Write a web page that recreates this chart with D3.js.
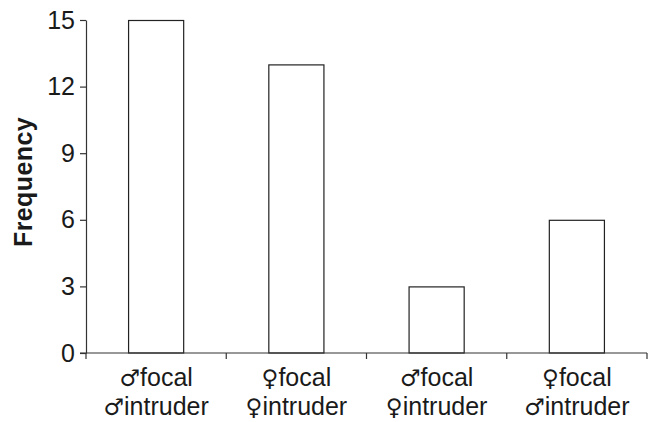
<!DOCTYPE html>
<html>
<head>
<meta charset="utf-8">
<script src="https://cdn.jsdelivr.net/npm/d3@7/dist/d3.min.js"></script>
<style>
  html, body { margin: 0; padding: 0; background: #fff; }
  svg { display: block; }
  text { font-family: "Liberation Sans", Arial, Helvetica, sans-serif; fill: #1a1a1a; }
</style>
</head>
<body>
<svg id="chart" width="650" height="422"></svg>
<script>
// Encounter pairings (focal sex / intruder sex) and how often each was seen
const focalSymbols = ["\u2642", "\u2640", "\u2642", "\u2640"];
const intruderSymbols = ["\u2642", "\u2640", "\u2640", "\u2642"];
const categories = ["mm", "ff", "mf", "fm"];
const frequency = [15, 13, 3, 6];
const yTicks = [0, 3, 6, 9, 12, 15];
const yTitle = "Frequency";

const svg = d3.select("#chart");
const plotLeft = 86, plotRight = 647, plotTop = 20, plotBottom = 353;

const x = d3.scaleBand()
  .domain(categories)
  .range([plotLeft, plotRight])
  .paddingInner(0.6)
  .paddingOuter(0.3);

const y = d3.scaleLinear()
  .domain([0, 15])
  .range([plotBottom, plotTop]);

const axisColor = "#333";

// Bars
svg.append("g")
  .selectAll("rect")
  .data(categories)
  .join("rect")
  .attr("x", d => x(d) + 0.5)
  .attr("y", (d, i) => y(frequency[i]) + 0.5)
  .attr("width", x.bandwidth() - 1)
  .attr("height", (d, i) => y(0) - y(frequency[i]) - 0.5)
  .attr("fill", "#fff")
  .attr("stroke", "#222")
  .attr("stroke-width", 1.2);

// Y axis
const yAxis = svg.append("g")
  .attr("transform", `translate(${plotLeft},0)`)
  .call(d3.axisLeft(y).tickValues(yTicks).tickSize(6).tickPadding(5).tickSizeOuter(0));
yAxis.select(".domain").attr("stroke", axisColor).attr("stroke-width", 1.2);
yAxis.selectAll(".tick line").attr("stroke", axisColor).attr("stroke-width", 1.2);
yAxis.selectAll(".tick text")
  .attr("font-size", 25)
  .attr("font-family", "Liberation Sans, Arial, sans-serif")
  .attr("fill", "#1a1a1a");

// X axis: ticks sit on the boundaries between categories
const gap = x.step() - x.bandwidth();
const boundaries = categories.map(c => x(c) - gap / 2).concat([plotRight]);
const xg = svg.append("g");
xg.append("line")
  .attr("x1", plotLeft - 6).attr("x2", plotRight)
  .attr("y1", plotBottom).attr("y2", plotBottom)
  .attr("stroke", axisColor).attr("stroke-width", 1.2);
xg.selectAll("line.tick")
  .data(boundaries)
  .join("line")
  .attr("class", "tick")
  .attr("x1", d => d).attr("x2", d => d)
  .attr("y1", plotBottom).attr("y2", plotBottom + 6)
  .attr("stroke", axisColor).attr("stroke-width", 1.2);

// Two-line category labels: focal sex, intruder sex
const labels = svg.append("g")
  .selectAll("text")
  .data(categories)
  .join("text")
  .attr("text-anchor", "middle")
  .attr("font-size", 25);
labels.append("tspan")
  .attr("x", d => x(d) + x.bandwidth() / 2)
  .attr("y", 386)
  .html((d, i) => `<tspan font-family="DejaVu Sans" font-size="23">${focalSymbols[i]}</tspan>focal`);
labels.append("tspan")
  .attr("x", d => x(d) + x.bandwidth() / 2)
  .attr("y", 415)
  .html((d, i) => `<tspan font-family="DejaVu Sans" font-size="23">${intruderSymbols[i]}</tspan>intruder`);

// Y axis title
svg.append("text")
  .attr("transform", `translate(32,182) rotate(-90)`)
  .attr("text-anchor", "middle")
  .attr("font-size", 25)
  .attr("font-weight", "bold")
  .attr("letter-spacing", 0.4)
  .text(yTitle);
</script>
</body>
</html>
